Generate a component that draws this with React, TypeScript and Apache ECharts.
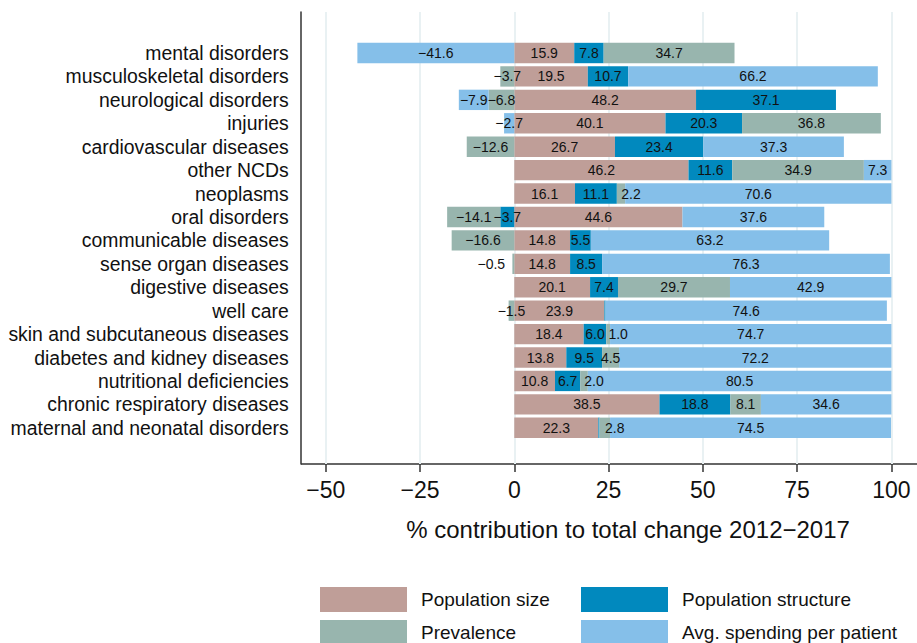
import React, { useEffect, useRef } from "react";
import * as echarts from "echarts";

const categories = [
  "mental disorders",
  "musculoskeletal disorders",
  "neurological disorders",
  "injuries",
  "cardiovascular diseases",
  "other NCDs",
  "neoplasms",
  "oral disorders",
  "communicable diseases",
  "sense organ diseases",
  "digestive diseases",
  "well care",
  "skin and subcutaneous diseases",
  "diabetes and kidney diseases",
  "nutritional deficiencies",
  "chronic respiratory diseases",
  "maternal and neonatal disorders",
];

const populationSize = [15.9, 19.5, 48.2, 40.1, 26.7, 46.2, 16.1, 44.6, 14.8, 14.8, 20.1, 23.9, 18.4, 13.8, 10.8, 38.5, 22.3];
const populationStructure = [7.8, 10.7, 37.1, 20.3, 23.4, 11.6, 11.1, -3.7, 5.5, 8.5, 7.4, 0.3, 6.0, 9.5, 6.7, 18.8, 0.3];
const prevalence = [34.7, -3.7, -6.8, 36.8, -12.6, 34.9, 2.2, -14.1, -16.6, -0.5, 29.7, -1.5, 1.0, 4.5, 2.0, 8.1, 2.8];
const avgSpending = [-41.6, 66.2, -7.9, -2.7, 37.3, 7.3, 70.6, 37.6, 63.2, 76.3, 42.9, 74.6, 74.7, 72.2, 80.5, 34.6, 74.5];

const seriesNames = ["Population size", "Population structure", "Prevalence", "Avg. spending per patient"];
const seriesColors = ["#bf9e98", "#0189be", "#98b5ae", "#85bfe9"];
const xTicks = { min: -50, max: 100, interval: 25 };
const xTitle = "% contribution to total change 2012\u22122017";

const FONT = "'Liberation Sans', Arial, sans-serif";
const minus = (s: string) => s.replace(/-/g, "\u2212");

function buildData(values: number[]) {
  return values.map((v) => {
    const a = Math.abs(v);
    let label: any = {};
    if (a < 0.4) label = { show: false };
    else if (v > 0 && v < 3) label = { offset: [10, 0] };
    else if (v < 0 && v > -1) label = { offset: [-22, 0] };
    return { value: v, label };
  });
}

export default function App() {
  const ref = useRef<HTMLDivElement>(null);
  useEffect(() => {
    if (!ref.current) return;
    const chart = echarts.init(ref.current, null, { renderer: "svg" });
    const allSeries = [populationSize, populationStructure, prevalence, avgSpending];
    const gridLeft = 325.7;
    const gridRight = 25.6;
    const legendPos = [
      [320, 587],
      [581, 587],
      [320, 620],
      [581, 620],
    ];
    const legends = seriesNames.map((n, i) => ({
      left: legendPos[i][0],
      top: legendPos[i][1],
      padding: 0,
      data: [n],
      icon: "rect",
      itemWidth: 87,
      itemHeight: 25,
      selectedMode: false,
      textStyle: { fontSize: 19, color: "#111", fontFamily: FONT, padding: [0, 0, 0, 9] },
    }));
    chart.setOption({
      animation: false,
      backgroundColor: "#ffffff",
      textStyle: { fontFamily: FONT },
      grid: [
        { left: gridLeft, right: gridRight, top: 41.3, bottom: 203.5 },
        { left: gridLeft, right: gridRight, top: 12, bottom: 179 },
      ],
      xAxis: [
        { gridIndex: 0, type: "value", min: xTicks.min, max: xTicks.max, interval: xTicks.interval, show: false },
        {
          gridIndex: 1,
          type: "value",
          min: xTicks.min,
          max: xTicks.max,
          interval: xTicks.interval,
          axisLine: { show: false },
          axisTick: { show: true, length: 8, lineStyle: { color: "#333", width: 1.5 } },
          axisLabel: {
            fontSize: 23,
            color: "#111",
            margin: 14,
            fontFamily: FONT,
            formatter: (v: number) => minus(String(v)),
          },
          splitLine: { show: true, lineStyle: { color: "#e9f1f3", width: 2 } },
          name: xTitle,
          nameLocation: "middle",
          nameGap: 53,
          nameTextStyle: { fontSize: 24, color: "#111", fontFamily: FONT, padding: [0, 0, 0, 39] },
        },
      ],
      yAxis: [
        {
          gridIndex: 0,
          type: "category",
          inverse: true,
          data: categories,
          axisLine: { show: false },
          axisTick: { show: false },
          axisLabel: { interval: 0, fontSize: 19.4, color: "#111", margin: 37, fontFamily: FONT },
        },
        {
          gridIndex: 1,
          type: "value",
          min: 0,
          max: 1,
          offset: 24.7,
          axisLine: { show: true, onZero: false, lineStyle: { color: "#333", width: 1.5 } },
          axisTick: { show: false },
          axisLabel: { show: false },
          splitLine: { show: false },
        },
      ],
      legend: legends,
      graphic: [
        {
          type: "line",
          shape: { x1: 301, y1: 464, x2: 917, y2: 464 },
          style: { stroke: "#333", lineWidth: 1.5 },
        },
      ],
      series: allSeries.map((vals, i) => ({
        name: seriesNames[i],
        type: "bar",
        xAxisIndex: 0,
        yAxisIndex: 0,
        stack: "total",
        barWidth: "87%",
        itemStyle: { color: seriesColors[i] },
        label: {
          show: true,
          position: "inside",
          fontSize: 14,
          color: "#111",
          fontFamily: FONT,
          formatter: (p: any) => minus(Number(p.value).toFixed(1)),
        },
        data: buildData(vals),
      })),
    });
    return () => chart.dispose();
  }, []);
  return <div ref={ref} style={{ position: "absolute", left: 0, top: 0, width: 917, height: 643 }} />;
}
